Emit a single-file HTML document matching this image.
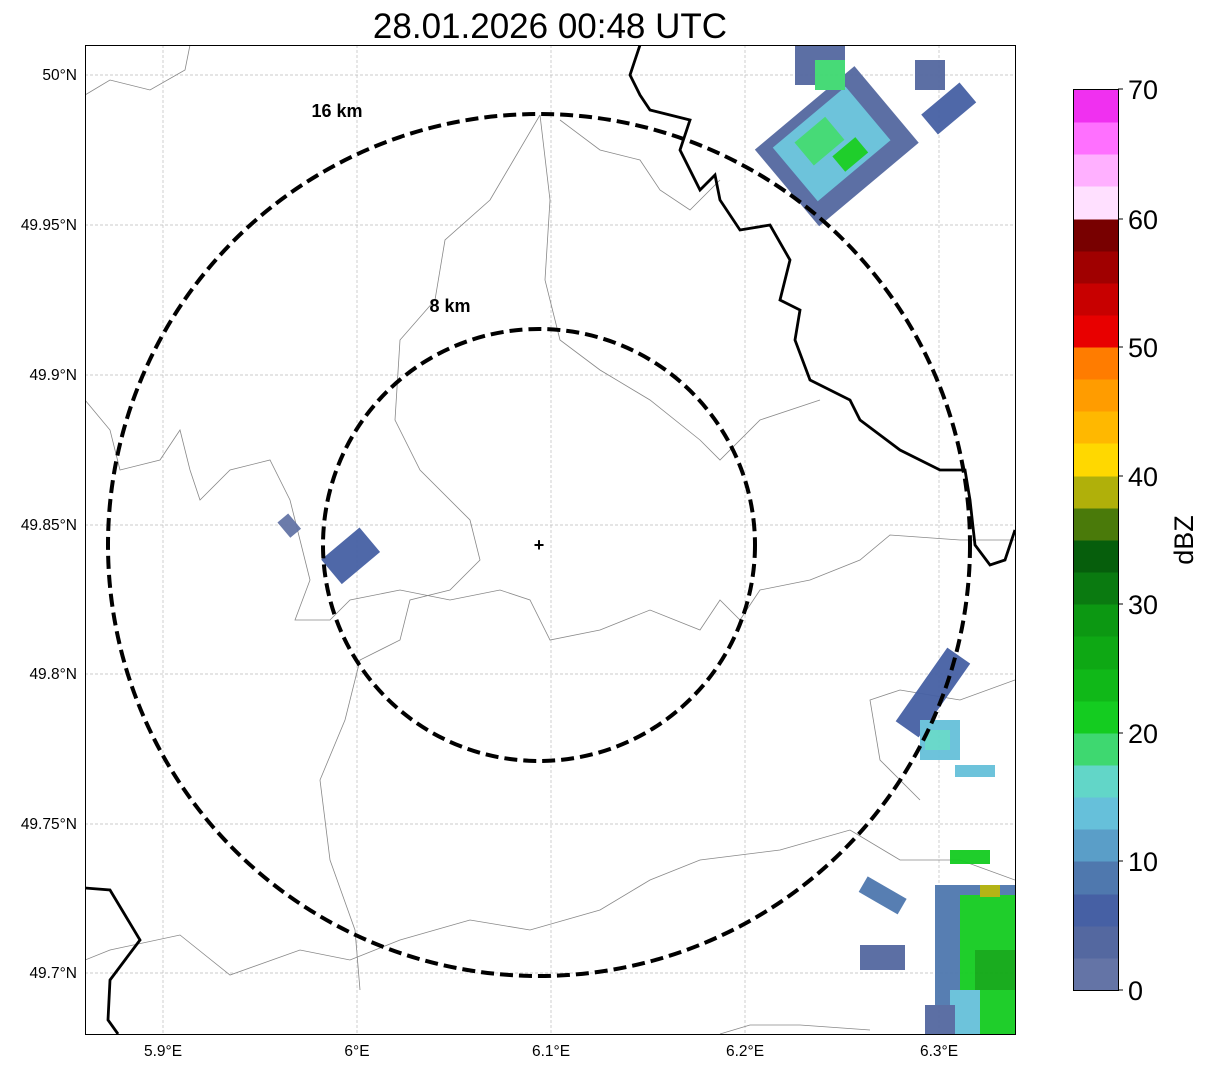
<!DOCTYPE html>
<html><head><meta charset="utf-8"><style>
body{margin:0;background:#fff;}
svg{display:block;font-family:"Liberation Sans",sans-serif;}
</style></head><body>
<svg width="1207" height="1069" viewBox="0 0 1207 1069" xmlns="http://www.w3.org/2000/svg">
<rect width="1207" height="1069" fill="#fff"/>
<text x="550" y="38" font-size="35" text-anchor="middle">28.01.2026 00:48 UTC</text>
<defs><clipPath id="c"><rect x="85" y="45" width="930" height="989"/></clipPath></defs>
<g clip-path="url(#c)">
<g stroke="#bbb" stroke-width="0.7" stroke-dasharray="3,2">
<line x1="163" y1="45" x2="163" y2="1034"/><line x1="357" y1="45" x2="357" y2="1034"/><line x1="551" y1="45" x2="551" y2="1034"/><line x1="745" y1="45" x2="745" y2="1034"/><line x1="939" y1="45" x2="939" y2="1034"/>
<line x1="85" y1="75" x2="1015" y2="75"/><line x1="85" y1="225" x2="1015" y2="225"/><line x1="85" y1="375" x2="1015" y2="375"/><line x1="85" y1="525" x2="1015" y2="525"/><line x1="85" y1="674" x2="1015" y2="674"/><line x1="85" y1="824" x2="1015" y2="824"/><line x1="85" y1="973" x2="1015" y2="973"/>
</g>
<g fill="none" stroke="#888" stroke-width="0.8">
<path d="M85,95 L110,80 L150,90 L185,70 L190,45"/>
<path d="M540,115 L490,200 L445,240 L435,300 L400,340 L395,420 L420,470 L470,520 L480,560 L450,590 L410,600 L400,640 L360,660 L345,720 L320,780 L330,860 L355,930 L360,990"/>
<path d="M540,115 L550,200 L545,280 L560,340 L600,370 L650,400 L700,440 L720,460 L760,420 L820,400"/>
<path d="M85,400 L110,430 L120,470 L160,460 L180,430 L190,470 L200,500 L230,470 L270,460 L290,500 L300,540 L310,580 L295,620 L330,620 L350,600 L400,590 L450,600 L500,590 L530,600 L550,640 L600,630 L650,610 L700,630 L720,600 L740,620 L760,590 L810,580 L860,560 L890,535 L960,540 L1015,540"/>
<path d="M560,120 L600,150 L640,160 L660,190 L690,210 L720,180"/>
<path d="M1015,680 L960,700 L900,690 L870,700 L880,760 L920,800"/>
<path d="M85,960 L110,950 L180,935 L230,975 L300,950 L350,960 L400,940 L470,920 L530,930 L600,910 L650,880 L700,860 L780,850 L850,830 L900,860 L960,860 L1015,880"/>
<path d="M720,1034 L750,1025 L800,1025 L870,1030"/>
</g>
<g fill="none" stroke="#000" stroke-width="2.8">
<path d="M640,45 L630,75 L640,95 L650,110 L690,120 L680,150 L700,190 L715,175 L720,200 L740,230 L770,225 L790,260 L780,300 L800,310 L795,340 L810,380 L850,400 L860,420 L900,450 L940,470 L965,470 L970,500 L975,545 L990,565 L1005,560 L1015,530"/>
<path d="M85,888 L110,890 L140,940 L110,980 L108,1020 L118,1034"/>
</g>
<g opacity="0.95">
<g transform="rotate(-40 350 555)"><rect x="325" y="540" width="50" height="32" fill="#4660a4"/></g>
<g transform="rotate(-40 290 525)"><rect x="282" y="515" width="14" height="20" fill="#6474a6"/></g>
<g transform="rotate(-40 840 150)">
<rect x="775" y="95" width="130" height="100" fill="#5468a0"/>
<rect x="790" y="105" width="95" height="70" fill="#66c0da"/>
<rect x="810" y="115" width="40" height="30" fill="#3ed870"/>
<rect x="830" y="150" width="30" height="20" fill="#14cc20"/>
</g>
<rect x="795" y="45" width="50" height="40" fill="#5468a0"/>
<rect x="815" y="60" width="30" height="30" fill="#3ed870"/>
<g transform="rotate(-40 950 110)"><rect x="925" y="95" width="50" height="26" fill="#4660a4"/></g>
<rect x="915" y="60" width="30" height="30" fill="#5468a0"/>
<g transform="rotate(35 935 700)"><rect x="915" y="650" width="28" height="90" fill="#4660a4"/></g>
<rect x="920" y="720" width="40" height="40" fill="#66c0da"/>
<rect x="925" y="730" width="25" height="20" fill="#62d6c8"/>
<rect x="955" y="765" width="40" height="12" fill="#66c0da"/>
<rect x="950" y="850" width="40" height="14" fill="#14cc20"/>
<g transform="rotate(30 880 895)"><rect x="860" y="885" width="45" height="18" fill="#4f78ae"/></g>
<rect x="860" y="945" width="45" height="25" fill="#5468a0"/>
<rect x="935" y="885" width="80" height="149" fill="#4f78ae"/>
<rect x="960" y="895" width="55" height="139" fill="#14cc20"/>
<rect x="975" y="950" width="40" height="40" fill="#0ea814"/>
<rect x="950" y="990" width="30" height="44" fill="#66c0da"/>
<rect x="980" y="885" width="20" height="12" fill="#b0b00a"/>
<rect x="925" y="1005" width="30" height="29" fill="#5468a0"/>
</g>
<g fill="none" stroke="#000" stroke-width="4" stroke-dasharray="13,6">
<circle cx="539" cy="545" r="431"/>
<circle cx="539" cy="545" r="216"/>
</g>
<text x="539" y="551" font-size="18" font-weight="bold" text-anchor="middle">+</text>
<text x="337" y="117" font-size="18" font-weight="bold" text-anchor="middle">16 km</text>
<text x="450" y="312" font-size="18" font-weight="bold" text-anchor="middle">8 km</text>
</g>
<rect x="85.5" y="45.5" width="930" height="989" fill="none" stroke="#000" stroke-width="1"/>
<g font-size="15.5" fill="#000">
<g text-anchor="middle">
<text x="163" y="1056">5.9°E</text><text x="357" y="1056">6°E</text><text x="551" y="1056">6.1°E</text><text x="745" y="1056">6.2°E</text><text x="939" y="1056">6.3°E</text>
</g>
<g text-anchor="end">
<text x="77" y="80">50°N</text><text x="77" y="230">49.95°N</text><text x="77" y="380">49.9°N</text><text x="77" y="530">49.85°N</text><text x="77" y="679">49.8°N</text><text x="77" y="829">49.75°N</text><text x="77" y="978">49.7°N</text>
</g>
</g>
<g>
<rect x="1073" y="958" width="45" height="32.5" fill="#6474a6"/>
<rect x="1073" y="926" width="45" height="32.5" fill="#5468a0"/>
<rect x="1073" y="894" width="45" height="32.5" fill="#4660a4"/>
<rect x="1073" y="861" width="45" height="33.5" fill="#4f78ae"/>
<rect x="1073" y="829" width="45" height="32.5" fill="#5a9ec8"/>
<rect x="1073" y="797" width="45" height="32.5" fill="#66c0da"/>
<rect x="1073" y="765" width="45" height="32.5" fill="#62d6c8"/>
<rect x="1073" y="733" width="45" height="32.5" fill="#3ed870"/>
<rect x="1073" y="701" width="45" height="32.5" fill="#14cc20"/>
<rect x="1073" y="669" width="45" height="32.5" fill="#10b818"/>
<rect x="1073" y="636" width="45" height="33.5" fill="#0ea814"/>
<rect x="1073" y="604" width="45" height="32.5" fill="#0c9812"/>
<rect x="1073" y="572" width="45" height="32.5" fill="#0a7a10"/>
<rect x="1073" y="540" width="45" height="32.5" fill="#065e0c"/>
<rect x="1073" y="508" width="45" height="32.5" fill="#4a7a0a"/>
<rect x="1073" y="476" width="45" height="32.5" fill="#b0b00a"/>
<rect x="1073" y="443" width="45" height="33.5" fill="#ffd800"/>
<rect x="1073" y="411" width="45" height="32.5" fill="#ffb800"/>
<rect x="1073" y="379" width="45" height="32.5" fill="#ff9c00"/>
<rect x="1073" y="347" width="45" height="32.5" fill="#ff7c00"/>
<rect x="1073" y="315" width="45" height="32.5" fill="#e80000"/>
<rect x="1073" y="283" width="45" height="32.5" fill="#c80000"/>
<rect x="1073" y="251" width="45" height="32.5" fill="#a00000"/>
<rect x="1073" y="219" width="45" height="32.5" fill="#780000"/>
<rect x="1073" y="186" width="45" height="33.5" fill="#ffe0ff"/>
<rect x="1073" y="154" width="45" height="32.5" fill="#ffb0ff"/>
<rect x="1073" y="122" width="45" height="32.5" fill="#ff70ff"/>
<rect x="1073" y="89" width="45" height="33.5" fill="#f030f0"/>
<rect x="1073.5" y="89.5" width="45" height="901" fill="none" stroke="#000" stroke-width="1"/>
<g stroke="#000" stroke-width="1">
<line x1="1118" y1="990" x2="1123" y2="990"/><line x1="1118" y1="861" x2="1123" y2="861"/><line x1="1118" y1="733" x2="1123" y2="733"/><line x1="1118" y1="604" x2="1123" y2="604"/><line x1="1118" y1="476" x2="1123" y2="476"/><line x1="1118" y1="347" x2="1123" y2="347"/><line x1="1118" y1="219" x2="1123" y2="219"/><line x1="1118" y1="89" x2="1123" y2="89"/>
</g>
<g font-size="27">
<text x="1128" y="1000">0</text><text x="1128" y="871">10</text><text x="1128" y="743">20</text><text x="1128" y="614">30</text><text x="1128" y="486">40</text><text x="1128" y="357">50</text><text x="1128" y="229">60</text><text x="1128" y="99">70</text>
</g>
<text transform="translate(1193 540) rotate(-90)" font-size="27" text-anchor="middle">dBZ</text>
</g>
</svg>
</body></html>
